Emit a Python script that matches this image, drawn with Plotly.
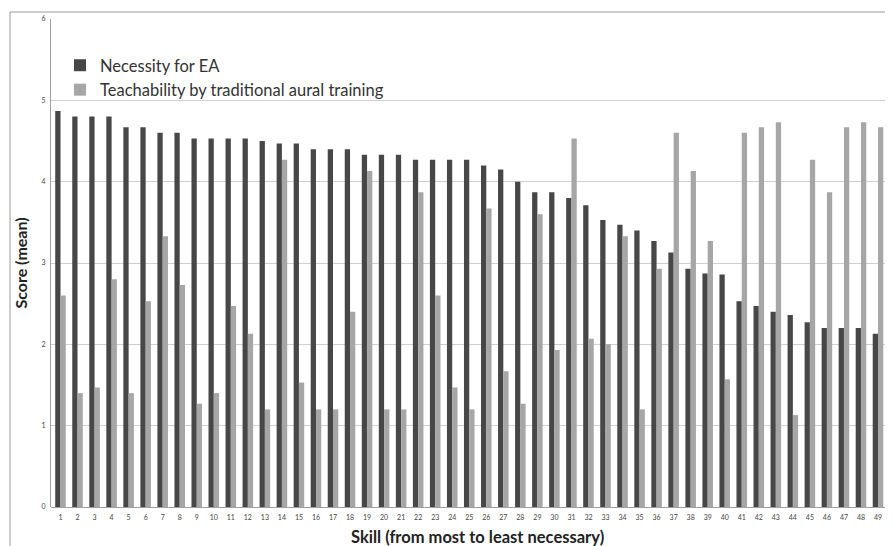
import plotly.graph_objects as go

skills = list(range(1, 51))
tick_labels = [str(s) for s in skills]

necessity = [4.87, 4.80, 4.80, 4.80, 4.67, 4.67, 4.60, 4.60, 4.53, 4.53,
             4.53, 4.53, 4.50, 4.47, 4.47, 4.40, 4.40, 4.40, 4.33, 4.33,
             4.33, 4.27, 4.27, 4.27, 4.27, 4.20, 4.15, 4.00, 3.87, 3.87,
             3.80, 3.71, 3.53, 3.47, 3.40, 3.27, 3.13, 2.93, 2.87, 2.86,
             2.53, 2.47, 2.40, 2.36, 2.27, 2.20, 2.20, 2.20, 2.13, 2.07]

teachability = [2.60, 1.40, 1.47, 2.80, 1.40, 2.53, 3.33, 2.73, 1.27, 1.40,
                2.47, 2.13, 1.20, 4.27, 1.53, 1.20, 1.20, 2.40, 4.13, 1.20,
                1.20, 3.87, 2.60, 1.47, 1.20, 3.67, 1.67, 1.27, 3.60, 1.93,
                4.53, 2.07, 2.00, 3.33, 1.20, 2.93, 4.60, 4.13, 3.27, 1.57,
                4.60, 4.67, 4.73, 1.13, 4.27, 3.87, 4.67, 4.73, 4.67, 4.60]

y_ticks = [0, 1, 2, 3, 4, 5, 6]

FONT = "Lato, 'Open Sans', sans-serif"

fig = go.Figure()
fig.add_trace(go.Bar(x=skills, y=necessity, name="Necessity for EA",
                     marker=dict(color="#474747", line=dict(width=0))))
fig.add_trace(go.Bar(x=skills, y=teachability,
                     name="Teachability by traditional aural training",
                     marker=dict(color="#a6a6a6", line=dict(width=0))))

# page geometry (the html body adds an 8px offset)
OFF = 8
PAGE_W, PAGE_H = 893, 546
PL, PT, PB = 51, 19, 507          # plot edges in page pixels
W, H = PAGE_W - OFF, PAGE_H - OFF
L, T = PL - OFF, PT - OFF
B = H - (PB - OFF)
plot_w = W - L
plot_h = H - T - B


def px_x(p):
    return (p - PL) / plot_w


def px_y(p):
    return (PB - p) / plot_h


fig.update_layout(
    width=W, height=H,
    margin=dict(l=L, r=0, t=T, b=B, pad=0, autoexpand=False),
    paper_bgcolor="white", plot_bgcolor="white",
    barmode="group", bargap=0.38, bargroupgap=0,
    font=dict(family=FONT, color="#333333"),
    showlegend=True,
    legend=dict(x=px_x(60), y=px_y(48),
                xanchor="left", yanchor="top",
                bgcolor="rgba(0,0,0,0)", font=dict(size=16.5, color="#333333"),
                tracegroupgap=0, itemsizing="constant"),
    xaxis=dict(range=[0.442, 49.88], tickmode="array", tickvals=skills,
               ticktext=tick_labels, tickfont=dict(size=7, color="#444444"),
               showgrid=False, zeroline=False, showline=False,
               ticks="", ticklabelstandoff=5, fixedrange=True,
               automargin=False),
    yaxis=dict(range=[0, 6], tickmode="array", tickvals=y_ticks,
               ticktext=[str(v) for v in y_ticks],
               tickfont=dict(size=7, color="#444444"),
               showgrid=True, gridcolor="#cfcfcf", gridwidth=1,
               zeroline=True, zerolinecolor="#a0a0a0", zerolinewidth=1,
               showline=True, linecolor="#a0a0a0", linewidth=1,
               ticks="", ticklabelstandoff=3, automargin=False,
               title=dict(text="<b>Score (mean)</b>",
                          font=dict(size=16, color="#222222"), standoff=9)),
)

fig.add_annotation(text="<b>Skill (from most to least necessary)</b>",
                   xref="paper", yref="paper",
                   x=px_x(477), y=px_y(537),
                   xanchor="center", yanchor="middle", showarrow=False,
                   font=dict(size=16.5, color="#222222", family=FONT))

# outer chart frame (partially cropped)
fig.add_shape(type="rect", xref="paper", yref="paper",
              x0=px_x(10), x1=1.3,
              y0=-0.3, y1=px_y(12),
              line=dict(color="#9a9a9a", width=1), layer="below")

fig.write_html("out.html")
